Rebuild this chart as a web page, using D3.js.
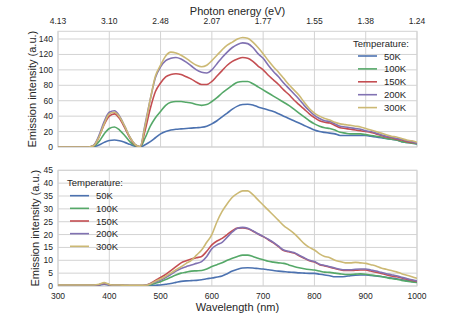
<!DOCTYPE html>
<html>
<head>
<meta charset="utf-8">
<script src="https://cdn.jsdelivr.net/npm/d3@7"></script>
<style>
  body { margin: 0; background: #fff; }
  svg text { font-family: "Liberation Sans", Arial, sans-serif; fill: #262626; }
</style>
</head>
<body>
<div id="chart"></div>
<script>
// wavelength samples (nm)
const wavelengths = [300,310,320,330,340,350,360,370,380,390,400,410,420,430,440,450,460,470,480,490,
  500,510,520,530,540,550,560,570,580,590,600,610,620,630,640,650,660,670,680,690,
  700,710,720,730,740,750,760,770,780,790,800,810,820,830,840,850,860,870,880,890,
  900,910,920,930,940,950,960,970,980,990,1000];

const temperatures = ['50K', '100K', '150K', '200K', '300K'];
const colors = ['#4C72B0', '#55A868', '#C44E52', '#8172B2', '#CCB974'];

const xTicks = [300, 400, 500, 600, 700, 800, 900, 1000];
const energyLabels = ['4.13', '3.10', '2.48', '2.07', '1.77', '1.55', '1.38', '1.24'];
const topYTicks = [0, 20, 40, 60, 80, 100, 120, 140];
const bottomYTicks = [0, 5, 10, 15, 20, 25, 30, 35, 40, 45];

// upper panel
const top50 = [0,0,0,0,0,0, 0,0.5,2.5,6,8.5,9,8,6,3.5,1,0, 3,7,12,17,
  20,22,23,23.5,24,24.5,25,25.5,27,30, 34,39,44,49,53,55,55.5,54.5,52,50,
  48,46,43,40,37,34,31,28,25,22, 20,19,18,17,15,15,15,15,15,15, 14,13,12,11,10,9,7,6,5,4];
const top100 = [0,0,0,0,0,0, 0,1,7,17,24,26,22,15,7,2,0, 12,27,38,46,
  54,58,59,59,58,57,55,54,55,59, 64,70,75,80,84,85,85,82,78,74,
  70,66,62,58,54,49,44,39,34,30, 27,25,24,22,19,18,17,17,17,16, 15,14,13,11,10,9,7,6,5,4];
const top150 = [0,0,0,0,0,0, 0,2,13,29,40,43,37,25,12,3,0, 22,50,72,83,
  91,94,95,94,91,88,84,81,81,85, 92,99,106,111,114,116,115,111,105,100,
  93,87,81,74,68,61,55,49,43,38, 34,32,31,28,25,24,23,22,21,20, 19,17,15,13,12,10,9,7,6,5];
const top200 = [0,0,0,0,0,0, 0,2.5,15,33,45,47,40,27,13,3.5,0.5, 30,62,90,104,
  112,115,116,114,110,105,100,97,96,100, 108,116,123,129,133,135,134,129,121,115,
  106,98,91,83,76,69,62,54,47,41, 37,34,33,30,27,26,25,24,23,21, 20,18,16,14,13,11,10,8,7,5];
const top300 = [0,0,0,0,0,0, 0,2,13,30,43,45,39,27,13,3.5,0.5, 28,62,92,106,
  118,123,122,119,115,110,106,104,106,112, 119,126,132,136,140,142,141,136,129,121,
  112,104,97,89,81,74,67,58,50,44, 40,37,35,32,30,29,28,27,26,24, 22,20,18,16,14,13,11,9,8,6];

// lower panel
const bot50 = [0.2,0.2,0.2,0.2,0.2,0.2, 0.2,0.2,0.4,0.7,0.4,0.2,0.2,0.2,0.1,0.1,0.1, 0.1,0.2,0.3,0.4,
  0.7,1,1.4,1.8,2,2.1,2.2,2.4,2.8,3.1, 3.5,3.9,4.8,5.8,6.5,7,7.1,7,6.8,6.6,
  6.3,6,5.8,5.6,5.4,5.3,5.1,5,4.9,4.9, 4.6,4.3,4,3.6,3.6,3.7,4,4.2,4.3,4.3, 4.1,3.9,3.7,3.4,3.1,2.8,2.4,2.1,1.8,1.6];
const bot100 = [0.3,0.3,0.3,0.3,0.3,0.3, 0.3,0.3,0.5,0.9,0.5,0.3,0.3,0.2,0.2,0.2,0.2, 0.2,0.5,1.1,1.7,
  2.5,3.4,4.3,5,5.4,5.8,5.9,6,6.6,7.6, 8.3,9,10,10.8,11.5,12,12,11.5,10.8,10.2,
  9.6,9.3,9,8.8,8.2,7.6,7.1,6.7,6.4,6.2, 5.8,5.4,5.3,5,4.7,4.5,4.5,4.6,4.7,4.6, 4.3,4,3.7,3.3,2.9,2.6,2.2,1.9,1.6,1.4];
const bot150 = [0.3,0.3,0.3,0.3,0.3,0.3, 0.3,0.3,0.5,0.9,0.5,0.3,0.3,0.2,0.2,0.2,0.2, 0.3,1,2.2,3.3,
  4.5,6,7.5,9,9.8,10.5,11,11.5,13.5,16, 17.5,18.5,20,21.5,22.5,22.6,22.3,21.3,20.2,19.2,
  18,16.8,15.3,13.8,13.3,12.8,11.8,10.8,9.8,9.3, 8.3,7.8,7.3,6.8,6.3,6,6,6.1,6.2,6.2, 5.8,5.4,4.9,4.4,3.9,3.6,3.1,2.6,2.2,1.8];
const bot200 = [0.3,0.3,0.3,0.3,0.3,0.3, 0.3,0.3,0.5,0.9,0.5,0.3,0.3,0.2,0.2,0.2,0.2, 0.3,0.8,1.6,2.3,
  3.3,4.5,5.8,6.8,7.5,8.2,8.8,9.5,11.5,14.5, 16,17,19,21,22.5,22.8,22.5,21.5,20.3,19.3,
  18.2,17,15.5,14,13.5,13,12,11,10,9.5, 8.5,8,7.5,7,6.5,6.3,6.3,6.5,6.6,6.6, 6.2,5.8,5.3,4.8,4.4,4,3.4,2.9,2.4,2];
const bot300 = [0.4,0.4,0.4,0.4,0.4,0.4, 0.4,0.4,0.7,1.3,0.6,0.4,0.4,0.3,0.3,0.3,0.3, 0.3,0.8,1.8,2.7,
  3.8,5,6.3,7.5,8.8,10,12,14,17,20, 25,29,32,34.5,36,37,37,35.5,33.5,31.5,
  29.5,27.5,25.5,23.5,22,20.5,18.5,16.5,15,14, 12.5,11.5,11,10,9.5,9,9,9.2,9,8.8, 8.3,7.8,7,6.5,6,5.5,4.8,4.2,3.6,3];

const topSeries = [top50, top100, top150, top200, top300];
const bottomSeries = [bot50, bot100, bot150, bot200, bot300];

const width = 463, height = 319;
const left = 58, right = 417;

const svg = d3.select('#chart').append('svg')
  .attr('width', width)
  .attr('height', height);

const x = d3.scaleLinear().domain([300, 1000]).range([left, right]);

function drawPanel(series, yDomain, yTicks, y0, y1, labelX) {
  const y = d3.scaleLinear().domain(yDomain).range([y1, y0]);
  const g = svg.append('g');

  // grid
  g.selectAll('line.vgrid').data(xTicks).enter().append('line')
    .attr('x1', d => x(d)).attr('x2', d => x(d))
    .attr('y1', y0).attr('y2', y1)
    .attr('stroke', '#d3d3d3').attr('stroke-width', 1);
  g.selectAll('line.hgrid').data(yTicks).enter().append('line')
    .attr('x1', left).attr('x2', right)
    .attr('y1', d => y(d)).attr('y2', d => y(d))
    .attr('stroke', '#d3d3d3').attr('stroke-width', 1);
  g.append('rect')
    .attr('x', left).attr('y', y0)
    .attr('width', right - left).attr('height', y1 - y0)
    .attr('fill', 'none').attr('stroke', '#d3d3d3').attr('stroke-width', 1);

  // y axis labels
  g.selectAll('text.ytick').data(yTicks).enter().append('text')
    .attr('x', left - 5).attr('y', d => y(d))
    .attr('text-anchor', 'end').attr('dominant-baseline', 'central')
    .style('font-size', '8.5px')
    .text(d => d);

  g.append('text')
    .attr('transform', `translate(${labelX},${(y0 + y1) / 2}) rotate(-90)`)
    .attr('text-anchor', 'middle').attr('dominant-baseline', 'central')
    .style('font-size', '11px')
    .text('Emission intensity (a.u.)');

  const clipId = 'clip' + Math.round(y0);
  svg.append('clipPath').attr('id', clipId).append('rect')
    .attr('x', left).attr('y', y0).attr('width', right - left).attr('height', y1 - y0);

  const line = d3.line()
    .x((d, i) => x(wavelengths[i]))
    .y(d => y(d))
    .curve(d3.curveMonotoneX);

  g.append('g').attr('clip-path', `url(#${clipId})`)
    .selectAll('path').data(series).enter().append('path')
    .attr('d', line)
    .attr('fill', 'none')
    .attr('stroke', (d, i) => colors[i])
    .attr('stroke-width', 1.6);

  return y;
}

drawPanel(topSeries, [0, 150], topYTicks, 31.3, 147, 32);
drawPanel(bottomSeries, [0, 45], bottomYTicks, 170.3, 286, 35);

// top energy axis
svg.selectAll('text.etick').data(xTicks).enter().append('text')
  .attr('x', d => x(d)).attr('y', 21)
  .attr('text-anchor', 'middle').attr('dominant-baseline', 'central')
  .style('font-size', '8.5px')
  .text((d, i) => energyLabels[i]);
svg.append('text')
  .attr('x', (left + right) / 2).attr('y', 11)
  .attr('text-anchor', 'middle').attr('dominant-baseline', 'central')
  .style('font-size', '11px')
  .text('Photon energy (eV)');

// bottom wavelength axis
svg.selectAll('text.xtick').data(xTicks).enter().append('text')
  .attr('x', d => x(d)).attr('y', 296)
  .attr('text-anchor', 'middle').attr('dominant-baseline', 'central')
  .style('font-size', '8.5px')
  .text(d => d);
svg.append('text')
  .attr('x', (left + right) / 2).attr('y', 307)
  .attr('text-anchor', 'middle').attr('dominant-baseline', 'central')
  .style('font-size', '11px')
  .text('Wavelength (nm)');

// legends
function legend(tx, ty, lx, ly0, step) {
  const g = svg.append('g');
  g.append('text').attr('x', tx).attr('y', ty)
    .attr('dominant-baseline', 'central')
    .style('font-size', '9.5px')
    .text('Temperature:');
  const rows = g.selectAll('g.row').data(temperatures).enter().append('g')
    .attr('transform', (d, i) => `translate(0,${ly0 + i * step})`);
  rows.append('line')
    .attr('x1', lx).attr('x2', lx + 19)
    .attr('stroke', (d, i) => colors[i]).attr('stroke-width', 1.6);
  rows.append('text')
    .attr('x', lx + 26).attr('dominant-baseline', 'central')
    .style('font-size', '9.5px')
    .text(d => d);
}
legend(353, 43, 358, 56, 12.9);
legend(67, 182.5, 70, 195.7, 12.65);
</script>
</body>
</html>
